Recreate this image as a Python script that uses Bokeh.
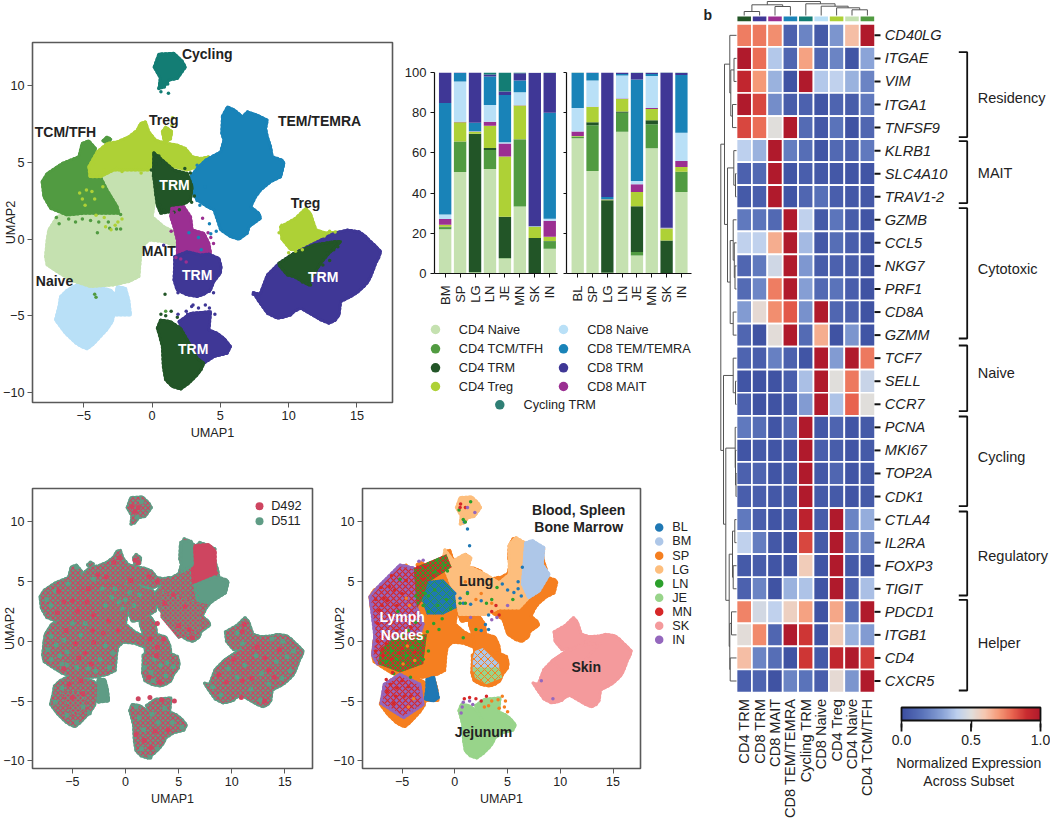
from math import pi
import numpy as np
from bokeh.plotting import figure
from bokeh.layouts import row, column
from bokeh.models import Range1d, FixedTicker, Label, LinearColorMapper, ColorBar, NumeralTickFormatter
from bokeh.core.properties import value
from bokeh.embed import file_html
from bokeh.resources import INLINE

FONT = "Liberation Sans"
INK = "#222222"
SPINE = "#595959"

# ---- colours
C_CD4N = "#C5E1B0"; C_TCM = "#519B41"; C_CD4T = "#225527"; C_TREG = "#AED136"
C_MAIT = "#9B2F92"; C_CD8N = "#B9E0F7"; C_TEM = "#1983B8"; C_CD8T = "#3F3796"; C_CYC = "#137D74"
C_D492 = "#CE4560"; C_D511 = "#5F9C85"
T_COL = {"BL": "#1F78B4", "BM": "#AEC7E8", "SP": "#F57F20", "LG": "#FDBE7D", "LN": "#2CA02C",
         "JE": "#98D48A", "MN": "#D62728", "SK": "#F49A9C", "IN": "#9467BD"}

# ---- UMAP clusters, outlines (UMAP1, UMAP2)
P_CD4N = [(-7.68,-.07),(-7.8,-1.15),(-7.68,-1.69),(-6.95,-2.13),(-5.97,-2.67),(-4.5,-3.1),(-2.79,-2.99),(-1.7,-2.77),(-.96,-2.45),(-.84,-1.15),(-.72,-.5),(-.23,-.07),(.87,-.17),(1.8,-.5),(1.85,.37),(.87,.8),(.01,1.45),(.38,3.4),(.13,4.7),(-.84,4.92),(-2.79,4.92),(-4.25,4.49),(-5,2.1),(-6.95,1.45),(-7.56,.59)]
P_CD8N = [(-6.7,-3.75),(-6.21,-3.32),(-5.24,-2.84),(-4.02,-3.1),(-3.04,-3.32),(-2.67,-3.64),(-2.55,-3.1),(-1.94,-3.21),(-1.7,-3.97),(-1.57,-4.95),(-2.79,-4.95),(-2.91,-5.38),(-3.3,-5.9),(-3.77,-6.35),(-4.3,-6.85),(-4.75,-7.16),(-5.2,-7),(-5.6,-6.77),(-6.34,-6.14),(-7.07,-5.27),(-6.82,-4.4)]
P_TCM = [(-8.05,3.73),(-7.68,4.27),(-6.58,4.92),(-5.36,5.36),(-5.12,6.23),(-4.63,6.4),(-4.14,5.9),(-4.21,5.14),(-3.9,4.27),(-3.29,3.19),(-2.55,2.1),(-2.43,1.67),(-3.77,1.67),(-4.99,1.67),(-6.21,1.56),(-7.43,2.0),(-7.92,2.76)]
P_TCM2 = [(-3.6,6.4),(-3.3,6.65),(-3,6.5),(-3.3,6.2)]
P_TREG = [(-4.63,4.71),(-4.02,5.68),(-3.28,6.23),(-2.55,6.33),(-1.7,6.66),(-1.09,7.09),(-.84,7.53),(-.48,7.64),(-.23,6.98),(.26,6.44),(.87,6.27),(1.84,6.12),(2.45,5.9),(2.94,5.36),(3.55,5.25),(4.16,5.36),(3.8,4.82),(3.31,4.71),(2.58,4.49),(1.6,4.7),(.13,5.2),(-.23,4.49),(-1.33,4.49),(-2.8,4.49),(-3.77,4.06),(-4.55,4.06)]
P_TREG2 = [(0.75,7),(1.0,7.3),(1.45,7),(1.35,6.5),(0.9,6.3)]
P_TREG3 = [(9.4,0.8),(10.5,1.35),(11.25,2),(11.6,1.65),(12,0.6),(12.7,0.4),(13.6,0.45),(12.6,-0.3),(11.4,-0.6),(10.15,-0.7),(9.5,0)]
P_CD4T1 = [(.13,5.62),(.62,5.25),(1.6,4.49),(2.58,4.27),(2.94,3.41),(2.82,2.54),(2.21,2.21),(1.36,1.78),(.62,1.67),(.38,2.21),(.26,2.97),(.09,4.27)]
P_TEM = [(5.15,8),(5.52,8.61),(6,8.42),(6.63,7.96),(6.97,8.29),(7.71,8.07),(8.44,7.75),(8.32,7.2),(8.44,6.66),(8.68,6.01),(8.8,5.36),(9.54,5.14),(9.66,4.92),(9.42,4.05),(8.68,3.73),(7.95,3.19),(7.58,2.75),(7.22,2.1),(7.83,1.67),(7.95,1.35),(7.1,.8),(6.97,.37),(6.36,-.02),(5.75,.15),(5.02,.59),(4.78,1.24),(4.53,1.89),(4.04,2.1),(3.31,2.54),(2.8,3.19),(2.8,4.05),(3.31,4.6),(3.92,5.14),(5.02,5.68),(5.26,6.44),(5.1,6.88)]
P_MAIT = [(1.45,2),(2.33,2.1),(2.82,1.45),(2.94,.59),(3.8,.37),(4.16,-.28),(4.29,-.93),(1.85,-1.26),(1.85,-.07),(1.6,.8),(1.36,1.45)]
P_CD8T1 = [(1.65,-1.15),(2.58,-.82),(3.55,-1.04),(4.16,-.98),(4.9,-1.26),(5.06,-1.8),(5,-2.23),(4.53,-2.77),(4.28,-3.32),(3.8,-3.6),(3.31,-3.75),(2.57,-3.64),(1.83,-3.32),(1.6,-2.67),(1.65,-1.8)]
P_CD8T2 = [(1.96,-5.38),(2.82,-4.84),(4.29,-4.73),(4.17,-5.92),(4.78,-6.14),(5.3,-6.5),(5.75,-7.0),(5.5,-7.45),(4.53,-7.66),(3.8,-8.09),(3.31,-7.88)]
P_CD4T2 = [(0.38,-5.81),(0.62,-5.27),(1.35,-5.38),(2.09,-5.81),(2.58,-6.57),(3.31,-7.77),(3.8,-8.09),(3.6,-8.5),(3.31,-8.85),(2.7,-9.39),(2.09,-9.78),(1.48,-9.61),(0.99,-9.18),(0.82,-8.31),(0.75,-7.0),(0.5,-6.14)]
P_CD8T3 = [(7.41,-3.49),(7.9,-3.6),(8.44,-2.34),(9.29,-1.58),(10.39,-.93),(12.34,-.07),(13.32,.37),(14.3,.59),(15.15,.48),(15.6,.2),(15.89,-.07),(16.3,-.4),(16.74,-.82),(16.6,-1.2),(16.37,-1.58),(16.2,-2),(16,-2.45),(15.8,-2.8),(15.5,-3.1),(15,-3.5),(14.54,-3.75),(14.2,-3.9),(13.81,-4.08),(13.69,-4.95),(13.4,-5.3),(12.95,-5.49),(12.34,-5.27),(11.73,-4.95),(10.88,-4.51),(10.39,-4.73),(10.15,-4.95),(9.6,-5.1),(9.17,-5.16),(8.44,-4.84),(7.83,-4.08)]
P_CD4T3 = [(9.29,-1.58),(10.39,-.93),(11.85,-.39),(13.32,-.17),(13.81,-.17),(12.95,-.93),(12.34,-1.58),(11.73,-2.45),(11.48,-3),(10.39,-2.45),(9.9,-2.34),(9.29,-1.7)]
P_CYC = [(0.15,11.2),(0.5,12.05),(1.6,12.1),(2.2,11.6),(2.45,11.2),(1.85,10.45),(1.25,10.35),(0.85,9.9),(0.5,9.8),(0.6,10.5)]

# ---- loose cells
S_CD4T = [(0.15,5.55),(0.3,4.9),(-0.05,4.5),(0.5,5.4),(0.8,4.95),(0.1,4.1),(0.3,2.9),(0.55,2.2),(0.85,1.9),(0.3,3.4),(1.6,1.75),(2.0,1.9),(2.9,2.4),(3.1,2.8),(2.4,4.6),(2.8,4.3),(0.65,-4.9),(1,-5),(1.4,-4.7),(1.85,-5.1),(0.95,-3.6),(12.8,-0.9),(13.3,-0.7),(13.6,-0.5),(11,-2.8),(11.6,-3),(12.2,-2.3),(13,-1.4),(12.5,-1.7)]
S_TREG = [(-5.3,3),(-5.1,2.6),(-4.8,3.2),(-4.9,2.2),(-4.4,3.1),(-4.2,2.6),(-3.8,4.1),(-3.6,3.4),(-4.1,1.55),(-3.5,1.4),(-2.7,0.9),(-2.5,1.1),(-2.2,1.3),(-3.4,0.8),(-3,0.6),(-4.5,4.4),(-4.3,4.9),(-3.5,4.5),(-2.6,4.6),(-2.2,4.4),(-1.2,4.7),(-0.8,4.3),(-0.2,4.8),(10,-0.9),(10.5,-0.8),(11,-0.7),(12.6,0.2),(13.0,0.5),(13.4,0.45),(9.5,0.9),(9.3,0.4),(1.5,7.9),(1.45,7.4)]
S_TCM = [(-5.1,1.3),(-4.5,1.2),(-3.9,1.1),(-3.2,1.1),(-3.1,0.7),(-2.6,0.65),(-2.3,0.65),(-4.0,0.4),(-5.6,1.1),(-6.1,1.3),(-6.8,1.0),(-7,1.4),(-2.3,1.6),(-4.1,-3.8),(-4.2,-3.6),(1,-4.7)]
S_MAIT = [(1.5,1.7),(1.7,1.0),(3.7,1.35),(4.1,0.4),(4.3,0.1),(4.5,-0.3),(1.4,0.5),(1.75,-1.2),(2.1,-1.3),(2.5,-1.5),(3.7,-0.8)]
S_TEM = [(4.3,0.35),(4.7,0.5),(4.2,1),(3.6,-0.7),(3.4,0.1),(2.7,0.4),(3.3,2.5),(3.9,3.4),(3.3,4.8),(3.5,2.2)]
S_CD8T = [(3.0,-4.3),(3.4,-4.5),(3.9,-4.3),(4.2,-4.5),(2.5,-4.7),(2.6,-4.9),(1.9,-4.9),(4.6,-4.9),(4.5,-3.5),(4.2,-3.4),(7.4,-3.6),(7.8,-3.8),(1.9,-3.5),(0.85,-0.4),(2.9,-4.4)]
S_CYC = [(0.5,9.8),(0.9,9.9),(1.2,9.5),(0.65,9.6),(0.9,10.2),(1.15,10.1)]

# ---- stacked bars
STACK = ["CD4 Naive", "CD4 TCM/TFH", "CD4 TRM", "CD4 Treg", "CD8 MAIT", "CD8 Naive", "CD8 TEM/TEMRA", "CD8 TRM", "Cycling TRM"]
STACK_COL = [C_CD4N, C_TCM, C_CD4T, C_TREG, C_MAIT, C_CD8N, C_TEM, C_CD8T, C_CYC]
TIS_492 = ["BM", "SP", "LG", "LN", "JE", "MN", "SK", "IN"]
TIS_511 = ["BL", "SP", "LG", "LN", "JE", "MN", "SK", "IN"]
D492 = {"CD4 Naive": [22,50.5,0.5,52,7.5,33.3,0.1,12.3],
        "CD4 TCM/TFH": [1,15,0.3,9.5,0.2,33.4,0,3.8],
        "CD4 TRM": [0.3,0.2,68.7,1,20.5,0.1,17.5,0.1],
        "CD4 Treg": [1,9.5,1,11,30,16.8,5.7,2.1],
        "CD8 MAIT": [2.8,0.3,0.2,2,6.5,0.1,0.1,8],
        "CD8 Naive": [2.2,20,0.1,8.3,0.6,6.5,0.1,1],
        "CD8 TEM/TEMRA": [55.5,4.3,4.2,14.2,23.5,5.8,0.1,52.7],
        "CD8 TRM": [15.2,0.2,25,1,1.8,3.6,76.3,19.8],
        "Cycling TRM": [0,0,0,1,9.4,0.4,0,0.2]}
D511 = {"CD4 Naive": [67.3,51,0.3,70.5,9,62.3,0.1,40.5],
        "CD4 TCM/TFH": [0.8,22.8,0.2,9.5,1.7,11.9,0,10],
        "CD4 TRM": [0.1,1.4,36,0.6,22.8,2,16.3,0.1],
        "CD4 Treg": [0.2,7.6,0.3,6.2,7,5.6,6,2.4],
        "CD8 MAIT": [2.3,0.2,0.1,0.3,3.9,0.6,0.1,3],
        "CD8 Naive": [11.6,13,0.1,11.4,1.6,15.8,0.1,14],
        "CD8 TEM/TEMRA": [17.4,3.8,1,0.8,50.5,1,0.1,28.7],
        "CD8 TRM": [0.1,0.2,62,0.7,3.3,0.7,77.4,1],
        "Cycling TRM": [0.3,0,0,0,0.2,0.1,0,0.3]}

# ---- heat map
SUBSETS = ["CD4 TRM", "CD8 TRM", "CD8 MAIT", "CD8 TEM/TEMRA", "Cycling TRM", "CD8 Naive", "CD4 Treg", "CD4 Naive", "CD4 TCM/TFH"]
SUBSET_COL = [C_CD4T, C_CD8T, C_MAIT, C_TEM, C_CYC, C_CD8N, C_TREG, C_CD4N, C_TCM]
GENES = ["CD40LG","ITGAE","VIM","ITGA1","TNFSF9","KLRB1","SLC4A10","TRAV1-2","GZMB","CCL5","NKG7","PRF1","CD8A","GZMM","TCF7","SELL","CCR7","PCNA","MKI67","TOP2A","CDK1","CTLA4","IL2RA","FOXP3","TIGIT","PDCD1","ITGB1","CD4","CXCR5"]
HEAT = [[.75,.76,.72,.08,.2,.05,.25,.62,1],[1,.78,.38,.1,.68,.1,.2,.03,.3],[.93,.7,.33,.02,1,.38,.41,.33,.2],
[1,.85,.23,.06,.08,.03,.09,.06,.17],[.85,.78,.5,1,.12,.04,.15,.02,.1],[.4,.33,1,.18,.13,.03,.11,.08,.17],
[.08,.11,1,.03,.07,.04,.04,.03,.03],[.05,.07,1,.03,.1,.14,.07,.04,.04],[.17,.16,.11,1,.41,.05,.16,.06,.03],
[.41,.41,.66,1,.35,.04,.13,.07,.03],[.1,.17,.45,1,.26,.06,.08,.06,.02],[.12,.21,.75,1,.28,.11,.15,.07,.02],
[.27,.52,.72,.82,.24,1,.1,.08,.02],[.1,.02,.51,1,.12,.66,.02,.25,.03],[.09,.07,.19,.08,.03,1,.27,1,.76],
[.03,.02,.02,.07,.36,1,.5,.76,.43],[.08,.02,.02,.04,.27,1,.37,.8,.5],[.17,.13,.03,.11,1,.04,.09,.03,.05],
[.03,.05,.03,.04,1,.07,.06,.03,.05],[.08,.09,.03,.05,1,.04,.1,.03,.05],[.07,.07,.04,.05,1,.05,.05,.03,.05],
[.17,.07,.03,.05,.95,.06,1,.2,.32],[.41,.18,.04,.02,.85,.05,1,.16,.2],[.05,.06,.03,.03,.58,.03,1,.05,.05],
[.08,.2,.02,.33,.37,.03,1,.08,.36],[.74,.46,.41,.56,.68,.02,.67,.14,1],[.51,.73,.1,1,.88,.02,.58,.33,.27],
[.62,.2,.13,.02,.88,.05,.93,1,.87],[.07,.09,.02,.2,.15,.07,.52,.25,1]]
CMAP_STOPS = [0,.15,.3,.4,.5,.6,.7,.8,.9,1]
CMAP_COLS = ["#3C4EA0","#5A73BA","#8CA5D8","#BDD0EE","#E0DEDC","#F5C7B0","#F59A78","#E8634F","#C92C30","#B01A2C"]
GROUPS = [("Residency",51.7,136.7,97),("MAIT",140.7,202.7,172.3),("Cytotoxic",207.7,338,268.7),("Naive",345,410.7,372.7),
          ("Cycling",416,505.7,456.3),("Regulatory",511,595,555.7),("Helper",599.3,690,642.3)]
DEND_ROW = [(1,2,736,736,733.5),(3,4,736,736,732),(1.5,3.5,733.5,732,730.3),(0,2.5,736,730.3,729.3),(6,7,736,736,735),(5,6.5,736,735,733.3),
(10,11,736,736,734.5),(9,10.5,736,734.5,733.8),(8,9.75,736,733.8,732.7),(12,13,736,736,732.7),(8.9,12.5,732.7,732.7,729.7),(5.75,10.7,733.3,729.7,727),
(1.25,8.2,729.3,727,724),(15,16,736,736,735),(14,15.5,736,735,732.7),(19,20,736,736,735.5),(18,19.5,736,735.5,735),(17,18.75,736,735,734.7),
(21,22,736,736,734.3),(23,24,736,736,732.7),(21.5,23.5,734.3,732.7,732),(25,26,736,736,731),(27,28,736,736,729.7),(25.5,27.5,731,729.7,729.3),
(22.5,26.5,732,729.3,728.7),(17.9,24.5,734.7,728.7,725.3),(14.75,21.2,732.7,725.3,723),(4.72,18,724,723,720.3)]
DEND_COL = [(0,1,15,15,11),(2,3,15,15,6),(0.5,2.5,11,6,4.3),(7,8,15,15,9.3),(6,7.5,15,9.3,7.3),(5,6.75,15,7.3,5.7),(4,5.9,15,5.7,3.3),(1.5,4.95,4.3,3.3,1)]

# ---- tissue panel
T_LG = [(-0.95,7.7),(-0.15,6.75),(0.95,7.3),(1.55,7.0),(1.25,6.3),(2.95,5.6),(4.2,4.9),(5.15,5.6),(5.15,8.1),(5.8,8.7),(6.55,8.3),(7,7.6),(7,3.65),(6.1,2.8),(4.2,2.8),(2.95,2.25),(1.55,2.25),(0.45,2.25),(0.15,3.65),(-0.8,5.8),(-1.1,6.75)]
T_BM1 = [(6.7,8.25),(7.35,8.45),(8.45,7.85),(8.3,6.45),(8.95,5.6),(8,4.2),(7,3.65),(6.4,4.8),(6.55,6.45)]
T_BM2 = [(1.9,-0.8),(2.65,-0.55),(4.2,-1.9),(4.2,-2.5),(1.7,-2.5),(1.7,-1.4)]
T_JE2 = [(1.7,-2.2),(4.2,-2.2),(4.5,-3.05),(3,-3.6),(1.9,-3.05)]
T_BL1 = [(-2.5,5.05),(-1.1,5.2),(0,4.2),(0.15,2.8),(-1.1,2.25),(-2.65,2.25),(-3.1,3.4)]
T_BL2 = [(-2.65,-3.2),(-2,-3),(-1.55,-4.7),(-2,-5),(-2.8,-4.85),(-2.65,-3.9)]
T_IN1 = [(-8.05,3.73),(-7.35,4.5),(-5.2,6.4),(-3.9,6.15),(-3.3,4.5),(-3.6,2.8),(-3,1.45),(-4.2,-1.9),(-7.35,-1.9),(-7.8,-1.15),(-7.6,0.5),(-7.9,2.7)]
T_LN1 = [(-5.75,0.3),(-2.65,0.6),(-3,-1.9),(-5.2,-2.6),(-7.3,-1.9),(-7,-0.6)]
T_LN2 = [(-3.9,6.15),(-0.8,7.3),(-0.3,6.2),(-2.3,5.05),(-3.1,3.4),(-3.6,2.8)]
T_IN2 = [(-6.7,-3.6),(-5.2,-2.75),(-3.3,-3.6),(-3,-5.3),(-4.85,-6.4),(-7,-5.2)]
S_MN = [(-7.5,3.5),(-7,4.5),(-6.2,4.6),(-6.9,3),(-7.3,1.5),(-7,0.4),(-7.5,-0.8),(-6.8,-1.2),(-6,-1.5),(-6.5,-0.2),(-5.5,0.9),(-6,5.5),(-5,4),(-5.5,3),(-4,2),(-3.5,6.2),(-2.8,6.2),(-2,5.5),(-3,5.2),(-1.5,5.9),(-5.5,-3.9),(-5,-3.3),(-6.4,-4.2),(-5.8,-5.2),(-4.4,-3.8),(-4.8,-4.6),(-6.5,-3.2),(-5.9,-2.6),(3.5,2.5),(4.2,2.2),(3.9,3),(0.9,-4.8),(1.4,-4.7),(2,-4.8),(2.5,-5),(3,-4.6),(1,11.2),(0.5,11.2),(0.55,11.5),(-6.7,3.6),(-7.2,2.6),(-6.1,2.2),(-6.4,3.4),(-5.7,4.3),(-4.6,5.1),(-4.2,1.2),(-5,-0.6),(-6.9,-0.7),(-7.3,0),(-6.1,0.6),(-5.3,-1),(-3.8,-0.9),(-5.6,-4.6),(-6.1,-3.6),(-4.2,-4.6)]
S_LN = [(-1.7,6.8),(-1,6.4),(-1.9,5.8),(-0.7,5.9),(-2.8,4),(-3,3),(-2.5,2.5),(-1.2,1.9),(-1.5,1),(-2,1.5),(-3.4,0),(-4,-0.5),(-4.6,-1.2),(-5.5,-1.5),(-5,0.5),(-3,-1.5),(-2.5,-0.8),(-6,-0.8),(-6.5,-1.7),(-4.2,-3),(-5.8,-2.7),(-2.5,3.8),(0.5,3.2),(1.2,4),(2,1),(0.8,0.3),(3.5,3.5),(3,3.2),(5.5,3.5),(4,4.5),(0.8,10.2),(1,10),(1.5,11.7),(0.4,11),(1,3.2),(-4.4,0.9),(-3.7,1.6),(-2.6,0.8),(-1.6,3),(-1.9,4.3),(-0.8,3.5),(-0.4,2.7),(-5.4,2.5),(-5.2,5.2),(-3.7,3.8)]
S_BL = [(0,4),(0.5,3.6),(0.8,3.2),(1.2,4.1),(1.5,3.1),(2.5,3.4),(3.2,2.2),(4.5,4.8),(5,4.3),(5.6,4.1),(6,5),(6.4,6.2),(6,4.4),(6.3,3.8),(2.9,1.4),(2.5,0.9),(3.2,1),(1.4,8),(1.2,9.4),(0.9,10)]
S_IN = [(-3,6.8),(-3.4,6.7),(1.5,2),(4,2),(3.5,1.8),(5,3),(0.7,-5.5),(0.6,-6),(0.8,-5.1),(1.4,-5),(1.7,-5.3),(8.2,-3.3),(9.3,-4.8),(1.2,11.2),(1.9,10.8)]
S_SP = [(3.5,-5),(4.1,-4.9),(4.7,-5.5),(5,-5.9),(4.2,-5.6),(2.8,-5.5),(3.2,-5.4),(4.8,-5),(4.5,-4.6),(2.5,4),(3.5,3.2),(1,5),(2,3.5),(-3.8,-1.6),(-4.5,-0.4),(-3.3,0.5),(-4.9,-1.9),(-4.6,3.6),(-4.3,3),(-3.9,-4.8),(-4.4,-5.5)]

# ---- donor panel
D_RED1 = [(6.55,8),(7.85,8.1),(8.45,7.55),(8.45,5.05),(6.4,4.9),(6.25,6.45)]
D_RED2 = [(3.3,4.2),(7,3.2),(7,1),(5,0.2),(3.3,2)]
D_RED3 = [(-6,-4.3),(-4,-4.2),(-3.6,-5.6),(-5,-6.3)]
D_GRN1 = [(5.2,8.3),(6.2,8.4),(6.3,6.4),(5.3,5.8)]
D_GRN2 = [(8.4,5.4),(9.6,5),(9.3,4),(7.9,3.2),(6.8,3.4),(6.5,4.7)]
D_GRN3 = [(-2.5,-3.2),(-1.9,-3.3),(-1.6,-5),(-2.6,-5.1)]
S_D511 = [(-7.4,3.5),(-7,3),(-6.6,4.2),(-7.3,-0.7),(-7,-1.5),(-6.5,-0.3),(-6.2,-1.2),(-5.8,0.1),(-7,0.4),(-5.5,-0.9),(-4.6,-2.2),(-5.5,-2),(-6,-1.9),(-3.5,-2.3),(-2.8,-2.5),(-1.5,-2.2),(-1.2,-1),(-1.9,-0.4),(-2.4,-1.5),(-4.2,0.5),(-5,1.5),(-3.8,1.5),(-1.9,3),(-1.3,3.7),(-1,4.4),(-0.6,3.3),(0,3.5),(0.4,4.1),(-0.3,2.7),(0.8,3),(1.3,3.9),(-2.2,4.4),(-3,5.2),(-4.6,6.2),(-5.4,4.8),(2.7,-1.5),(3.3,-2),(3.9,-1.8),(2.4,-2.6),(3.8,-2.9),(1.8,-2.2),(2.6,-3.3),(4.5,-2.1),(-4,-5.5),(-5.5,-6.2),(-4.6,-6.8),(-3.4,-6),(-6.6,-5.1),(-6,-3.9),(1,-5.5),(1.3,-6.4),(1.7,-7.4),(2.5,-6.1),(3.1,-6.8),(3.7,-5.6),(4.4,-6.8),(5.3,-7.2),(1.5,-9),(2.3,-9.7),(3,-9),(10.5,0.7),(11,-0.2),(9.7,-2.3),(10.5,-3),(11.2,-2),(12.3,-1.2),(12.8,-2.7),(13.5,-3.6),(14.2,-1.7),(15.2,-1.3),(15.8,-0.8),(14.8,0),(13.8,0.2),(15.5,-2.5),(14.7,-3.1),(11.8,-4),(12.7,-4.9),(9,-4.5),(8.2,-3.8),(1.5,11.7),(1.1,10.4)]
S_D492 = [(-6.3,4.2),(-5.8,3.3),(-6.4,2.4),(-5,3.4),(-4.5,2.5),(-3.6,3.3),(-3,2.2),(-3.5,4.4),(-2.6,5.6),(-1.8,5.4),(-1.1,6.6),(-0.6,7),(0.9,6.8),(1.2,6.6),(-5.6,0.9),(-4.7,-0.2),(-3.8,-1),(-3,-0.1),(-3.1,0.9),(-2.1,0.7),(-0.7,0.9),(-1.6,1.7),(-3.2,-1.9),(-4.4,-1.4),(-5.8,-2.3),(0.5,5.1),(2.2,5.4),(3,5),(4.5,3.9),(5.6,2.9),(3.7,3.2),(5,1.3),(6,1),(6.3,0.3),(3,1.5),(2.3,0.2),(3,-0.5),(3.6,0.2),(2.2,-3),(3.2,-3.4),(2.9,-1.2),(-5.3,-3.6),(-4.2,-3.3),(-5,-4.7),(-4,-4.4),(1.2,-4.8),(2.3,-4.7),(3.4,-4.9),(4.6,-5),(1,-7.8),(1.8,-8.3),(2.4,-8.9),(2.8,-7.5),(4,-7.4),(11.2,1.4),(11,0.8),(10.2,-1.5),(11,-3.3),(11.9,-3.1),(12.4,-0.5),(13.1,-1.4),(13.5,-2.4),(14.5,-0.7),(14,-3),(9.5,-3.4),(8.8,-2.8),(13.1,-5),(10.9,-4.7),(0.6,11.3),(1.2,11.2),(0.9,10.9)]

ALL_POLYS = [P_CD4N,P_CD8N,P_TCM,P_TCM2,P_TREG,P_TREG2,P_TREG3,P_CD4T1,P_TEM,P_MAIT,P_CD8T1,P_CD8T2,P_CD4T2,P_CD8T3,P_CD4T3,P_CYC]
UX = (-8.75, 17.6)
UY = (-10.65, 12.8)
UTICKX = {-5:"\u22125",0:"0",5:"5",10:"10",15:"15"}
UTICKY = {-10:"\u221210",-5:"\u22125",0:"0",5:"5",10:"10"}


def xs(pts): return [a for a, b in pts]
def ys(pts): return [b for a, b in pts]

def rim(p, pts, color):
    # small round dots along the outline: a cluster's edge is made of single cells
    p.patch(xs(pts), ys(pts), fill_alpha=0, line_color=color, line_width=3, line_cap="round", line_dash="1 3")

def poly(p, pts, color, lw=2.5, **kw):
    p.patch(xs(pts), ys(pts), fill_color=color, line_color=color, line_width=lw, line_join="round", **kw)
    rim(p, pts, color)

def texture(p, pts, col, sc, w):
    p.patch(xs(pts), ys(pts), fill_alpha=0, line_color=None,
            hatch_pattern="diagonal_cross", hatch_color=col, hatch_scale=sc, hatch_weight=w)

def mix(p, pts, base, col, sc=5, w=1.1, edge=True):
    """one outline filled with base, with a fine mesh texture for a mixed population"""
    p.patch(xs(pts), ys(pts), fill_color=base, line_color=None if not edge else base, line_width=2.5, line_join="round")
    texture(p, pts, col, sc, w)
    if edge:
        rim(p, pts, base)

def dots(p, pts, color, size=3.5):
    return p.scatter(xs(pts), ys(pts), size=size, color=color, line_color=None)

def umap_fig(w, h, l, r, t, b, fs, stand):
    p = figure(width=w, height=h, output_backend="svg", toolbar_location=None,
               x_range=Range1d(*UX), y_range=Range1d(*UY),
               min_border_left=l, min_border_right=r, min_border_top=t, min_border_bottom=b,
               x_axis_label="UMAP1", y_axis_label="UMAP2")
    p.grid.visible = False
    p.outline_line_color = SPINE
    p.outline_line_width = 1.6
    p.xaxis.ticker = FixedTicker(ticks=list(UTICKX))
    p.yaxis.ticker = FixedTicker(ticks=list(UTICKY))
    p.xaxis.major_label_overrides = UTICKX
    p.yaxis.major_label_overrides = UTICKY
    for ax in (p.xaxis[0], p.yaxis[0]):
        ax.axis_line_color = None
        ax.minor_tick_line_color = None
        ax.major_tick_line_color = SPINE
        ax.major_tick_in = 0
        ax.major_tick_out = 5
        ax.major_label_standoff = 3
        ax.major_label_text_font = FONT
        ax.major_label_text_font_size = fs
        ax.major_label_text_color = INK
        ax.axis_label_text_font = FONT
        ax.axis_label_text_font_size = fs
        ax.axis_label_text_font_style = "normal"
        ax.axis_label_text_color = INK
    p.yaxis[0].axis_label_standoff = stand
    p.xaxis[0].axis_label_standoff = 3
    return p

def page_map(fl, fr, ft, fb, xr, yr):
    def f(px, py):
        x = xr[0] + (px - fl) / (fr - fl) * (xr[1] - xr[0])
        y = yr[1] - (py - ft) / (fb - ft) * (yr[1] - yr[0])
        return x, y
    return f

def lab(p, m, px, py, text, size="14px", style="normal", color=INK, align="center"):
    x, y = m(px, py)
    p.add_layout(Label(x=x, y=y, text=text, text_font=FONT, text_font_size=size, text_font_style=style,
                       text_color=color, text_align=align, text_baseline="middle"))

# ---------------- panel a
pa = umap_fig(400, 445, 32, 8, 42, 43, "12.7px", -18)
ma = page_map(32, 392, 42, 402, UX, UY)
for pts, c in [(P_CD8N,C_CD8N),(P_CD4N,C_CD4N),(P_TCM,C_TCM),(P_TCM2,C_TCM),(P_TREG,C_TREG),(P_TREG2,C_TREG),(P_TREG3,C_TREG),
               (P_TEM,C_TEM),(P_CD4T1,C_CD4T),(P_MAIT,C_MAIT),(P_CD8T1,C_CD8T),(P_CD8T2,C_CD8T),(P_CD4T2,C_CD4T),
               (P_CD8T3,C_CD8T),(P_CD4T3,C_CD4T),(P_CYC,C_CYC)]:
    poly(pa, pts, c)
for pts, c in [(S_TCM,C_TCM),(S_TREG,C_TREG),(S_CD4T,C_CD4T),(S_MAIT,C_MAIT),(S_TEM,C_TEM),(S_CD8T,C_CD8T),(S_CYC,C_CYC)]:
    dots(pa, pts, c)
for px, py, t, col in [(206.7,53.3,"Cycling",INK),(319,120,"TEM/TEMRA",INK),(163.3,119,"Treg",INK),(65,131.7,"TCM/TFH",INK),
                       (174,184.3,"TRM","white"),(305,202.3,"Treg",INK),(158.3,250.7,"MAIT",INK),(196.7,274.7,"TRM","white"),
                       (54,280,"Naive",INK),(322.7,276,"TRM","white"),(192.7,348.7,"TRM","white")]:
    lab(pa, ma, px, py, t, style="bold", color=col)
lab(pa, ma, 9.5, 14, "a", style="bold")

# ---------------- bars
def bar_fig(w, l, r, data, tissues, xr, labels, title, tx, fl, fr):
    p = figure(width=w, height=315, output_backend="svg", toolbar_location=None,
               x_range=Range1d(*xr), y_range=Range1d(0, 100),
               min_border_left=l, min_border_right=r, min_border_top=72, min_border_bottom=42)
    src = dict(data)
    src["x"] = list(range(len(tissues)))
    p.vbar_stack(STACK, x="x", width=0.83, color=STACK_COL, line_color=None, source=src)
    p.grid.visible = False
    p.outline_line_color = None
    p.xaxis.ticker = FixedTicker(ticks=src["x"])
    p.xaxis.major_label_overrides = {i: t for i, t in enumerate(tissues)}
    p.xaxis.major_label_orientation = pi / 2
    p.yaxis.ticker = FixedTicker(ticks=[0, 20, 40, 60, 80, 100])
    for ax in (p.xaxis[0], p.yaxis[0]):
        ax.axis_line_color = "#111111"
        ax.axis_line_width = 1.2
        ax.major_tick_line_color = "#111111"
        ax.minor_tick_line_color = None
        ax.major_tick_in = 0
        ax.major_tick_out = 4
        ax.major_label_text_font = FONT
        ax.major_label_text_font_size = "13px"
        ax.major_label_text_color = INK
    p.xaxis[0].major_label_standoff = 8
    p.yaxis[0].major_label_standoff = 4
    if not labels:
        p.yaxis[0].major_label_overrides = {t: "" for t in [0, 20, 40, 60, 80, 100]}
        p.yaxis[0].major_label_standoff = 0
        p.yaxis[0].major_tick_out = 3
    m = page_map(fl, fr, 72, 273, xr, (0, 100))
    lab(p, m, tx, 50, title, size="14.5px")
    return p

pb1 = bar_fig(162, 34, 5, D492, TIS_492, (-0.713, 7.52), True, "D492", 499, 434, 557)
pb2 = bar_fig(138, 4, 9, D511, TIS_511, (-0.756, 7.68), False, "D511", 628.7, 566, 691)

# ---------------- bar legend
LEG_NAMES = ["CD4 Naive","CD4 TCM/TFH","CD4 TRM","CD4 Treg","CD8 Naive","CD8 TEM/TEMRA","CD8 TRM","CD8 MAIT","Cycling TRM"]
LEG_COLS = [C_CD4N,C_TCM,C_CD4T,C_TREG,C_CD8N,C_TEM,C_CD8T,C_MAIT,"#2F7F75"]
LEG_MX = [435,435,435,435,563,563,563,563,499.3]
LEG_Y = [329,348.3,367.3,386,329,348.3,367.3,386,404.3]
LEG_TX = [458.3,458.3,458.3,458.3,586.7,586.7,586.7,586.7,523]
pl = figure(width=300, height=130, output_backend="svg", toolbar_location=None,
            x_range=Range1d(400, 700), y_range=Range1d(445, 315), min_border=0, x_axis_type=None, y_axis_type=None)
pl.grid.visible = False
pl.outline_line_color = None
pl.scatter(LEG_MX, LEG_Y, size=9.5, color=LEG_COLS, line_color=None)
pl.text(LEG_TX, LEG_Y, text=LEG_NAMES, text_font=value(FONT), text_font_size="12.7px", text_color=INK, text_baseline="middle")

# ---------------- donor
pd_ = umap_fig(330, 374, 32, 18, 43, 51, "12.5px", -17)
md = page_map(32, 312, 43 + 445, 323 + 445, UX, UY)
for pts in ALL_POLYS:
    poly(pd_, pts, C_D511)
for pts in ALL_POLYS:
    texture(pd_, pts, C_D492, 5, 1.2)
poly(pd_, D_RED1, C_D492)
poly(pd_, D_GRN1, C_D511)
poly(pd_, D_GRN2, C_D511)
poly(pd_, D_GRN3, C_D511)
mix(pd_, D_RED2, C_D492, C_D511, 5, 1.1, edge=False)
mix(pd_, D_RED3, C_D492, C_D511, 5, 1.1, edge=False)
dots(pd_, S_D511, C_D511, size=5)
dots(pd_, S_D492, C_D492, size=5)
lab(pd_, md, 176.3, 474, "Donor", size="14.5px")
lab(pd_, md, 10.5, 470, "c", style="bold")
DON_Y = (505.7, 520.7)
for py, t, c in zip(DON_Y, ["D492", "D511"], [C_D492, C_D511]):
    x, y = md(259, py)
    pd_.scatter([x], [y], size=8, color=c, line_color=None)
    lab(pd_, md, 270.7, py, t, size="12.7px", align="left")

# ---------------- tissue
pt = umap_fig(315, 374, 28, 5, 43, 51, "12.5px", -17)
mt = page_map(358, 640, 488, 768, UX, UY)
for pts in [P_CD4N,P_CD8N,P_TCM,P_TCM2,P_TREG,P_TREG2,P_CD4T1,P_TEM,P_MAIT,P_CD8T1]:
    poly(pt, pts, T_COL["SP"])
for pts in [P_TREG3, P_CD8T3, P_CD4T3]:
    poly(pt, pts, T_COL["SK"])
for pts in [P_CD8T2, P_CD4T2]:
    poly(pt, pts, T_COL["JE"])
poly(pt, P_CYC, T_COL["LG"])
poly(pt, T_LG, T_COL["LG"])
poly(pt, T_BM1, T_COL["BM"])
mix(pt, T_BM2, T_COL["BM"], T_COL["SP"], 7, 1, edge=False)
mix(pt, T_JE2, T_COL["JE"], T_COL["SP"], 7, 1, edge=False)
mix(pt, T_IN1, T_COL["IN"], T_COL["MN"], 6, 1.2)
mix(pt, T_LN1, T_COL["LN"], T_COL["MN"], 5, 1.2, edge=False)
mix(pt, T_LN2, T_COL["MN"], T_COL["LN"], 5, 1.2, edge=False)
mix(pt, T_IN2, T_COL["IN"], T_COL["MN"], 6, 1.2)
mix(pt, T_BL1, T_COL["BL"], T_COL["LN"], 8, 0.8, edge=False)
poly(pt, T_BL2, T_COL["BL"])
for pts, k in [(S_SP,"SP"),(S_BL,"BL"),(S_LN,"LN"),(S_MN,"MN"),(S_IN,"IN")]:
    dots(pt, pts, T_COL[k], size=3.5)
lab(pt, mt, 500, 474, "Tissue", size="14.5px")
for px, py, t, c in [(577.3,509.3,"Blood, Spleen",INK),(577.3,526.3,"Bone Marrow",INK),(473.3,580.3,"Lung",INK),
                     (398.3,616.7,"Lymph","white"),(398.3,634,"Nodes","white"),(585,666.7,"Skin",INK),(480.7,731.7,"Jejunum",INK)]:
    lab(pt, mt, px, py, t, style="bold", color=c)

# tissue legend
TIS_NAMES = ["BL","BM","SP","LG","LN","JE","MN","SK","IN"]
TIS_Y = [497,515.7,534.7,553.3,572,591,609.7,628.3,647]
ptl = figure(width=55, height=374, output_backend="svg", toolbar_location=None,
             x_range=Range1d(645, 700), y_range=Range1d(819, 445), min_border=0, x_axis_type=None, y_axis_type=None)
ptl.grid.visible = False
ptl.outline_line_color = None
ptl.scatter([658.7]*9, TIS_Y, size=8.5, color=[T_COL[k] for k in TIS_NAMES], line_color=None)
ptl.text([671.7]*9, TIS_Y, text=TIS_NAMES, text_font=value(FONT), text_font_size="12.7px", text_color=INK, text_baseline="middle")

# ---------------- heat map
XL, CW, YT, RH = 736, 15.4, 23.3, 23.06
def X(px): return (px - XL) / CW
def Y(py): return (py - YT) / RH

anch_rgb = [[int(c[i:i+2], 16) for i in (1, 3, 5)] for c in CMAP_COLS]
grid = np.linspace(0, 1, 256)
PAL = ["#%02x%02x%02x" % tuple(int(round(np.interp(g, CMAP_STOPS, [a[k] for a in anch_rgb]))) for k in range(3)) for g in grid]
mapper = LinearColorMapper(palette=PAL, low=0, high=1)

ph = figure(width=350, height=819, output_backend="svg", toolbar_location=None,
            x_range=Range1d(X(700), X(1050)), y_range=Range1d(Y(819), Y(0)), min_border=0,
            x_axis_type=None, y_axis_type=None)
ph.grid.visible = False
ph.outline_line_color = None
cx, cy, cv = [], [], []
for r, vals in enumerate(HEAT):
    for c, v in enumerate(vals):
        cx.append(c + 0.5); cy.append(r + 0.5); cv.append(v)
ph.rect(x="x", y="y", width=1, height=1, source=dict(x=cx, y=cy, v=cv),
        fill_color={"field": "v", "transform": mapper}, line_color="white", line_width=1.7)
ph.rect([i + 0.5 for i in range(9)], [Y(18.4)]*9, width=0.88, height=4.6/RH, color=SUBSET_COL, line_color=None)
ph.text([i + 0.5 for i in range(9)], [Y(698.3)]*9, text=SUBSETS, angle=pi/2, text_align="right", text_baseline="middle",
        text_font=value(FONT), text_font_size="14.6px", text_color=INK)
ph.segment([X(874)]*29, [i + 0.5 for i in range(29)], [X(880)]*29, [i + 0.5 for i in range(29)], line_color="#111111", line_width=2)
ph.text([X(884.3)]*29, [i + 0.5 for i in range(29)], text=GENES, text_baseline="middle",
        text_font=value(FONT), text_font_size="14.6px", text_font_style="italic", text_color=INK)
for name, a, b, ly in GROUPS:
    ph.line([X(958.3), X(966.7), X(966.7), X(958.3)], [Y(a), Y(a), Y(b), Y(b)], line_color="#111111", line_width=1.8)
    ph.text([X(977.3)], [Y(ly)], text=[name], text_baseline="middle", text_font=value(FONT), text_font_size="14.5px", text_color=INK)
for a, b, ea, eb, s in DEND_ROW:
    ph.line([X(ea), X(s), X(s), X(eb)], [a + 0.5, a + 0.5, b + 0.5, b + 0.5], line_color="#555555", line_width=1)
for a, b, ea, eb, s in DEND_COL:
    ph.line([a + 0.5, a + 0.5, b + 0.5, b + 0.5], [Y(ea), Y(s), Y(s), Y(eb)], line_color="#555555", line_width=1)
cb = ColorBar(color_mapper=mapper, orientation="horizontal", width=139, height=13, location=(201, 72),
              ticker=FixedTicker(ticks=[0, 0.5, 1]), formatter=NumeralTickFormatter(format="0.0"),
              major_tick_in=0, major_tick_out=7, major_tick_line_color="#111111", major_tick_line_width=1.5,
              bar_line_color="#111111", bar_line_width=1.8, padding=0, background_fill_alpha=0, border_line_color=None,
              major_label_text_font=FONT, major_label_text_font_size="14px", major_label_text_color=INK, label_standoff=7)
ph.add_layout(cb)
ph.segment([X(901), X(970.5), X(1040)], [Y(723)]*3, [X(901), X(970.5), X(1040)], [Y(731)]*3, line_color="#111111", line_width=1.8)
ph.text([X(968.3), X(968.3)], [Y(762.7), Y(780)], text=["Normalized Expression", "Across Subset"], text_align="center", text_baseline="middle",
        text_font=value(FONT), text_font_size="14.1px", text_color=INK)
ph.text([X(703)], [Y(14)], text=["b"], text_baseline="middle", text_font=value(FONT), text_font_size="14px", text_font_style="bold", text_color=INK)

bars = column(row(pb1, pb2, spacing=0), pl, spacing=0)
top = row(pa, bars, spacing=0)
bot = row(pd_, pt, ptl, spacing=0)
left = column(top, bot, spacing=0)
root = row(left, ph, spacing=0)
open("out.html", "w").write(file_html(root, INLINE))
